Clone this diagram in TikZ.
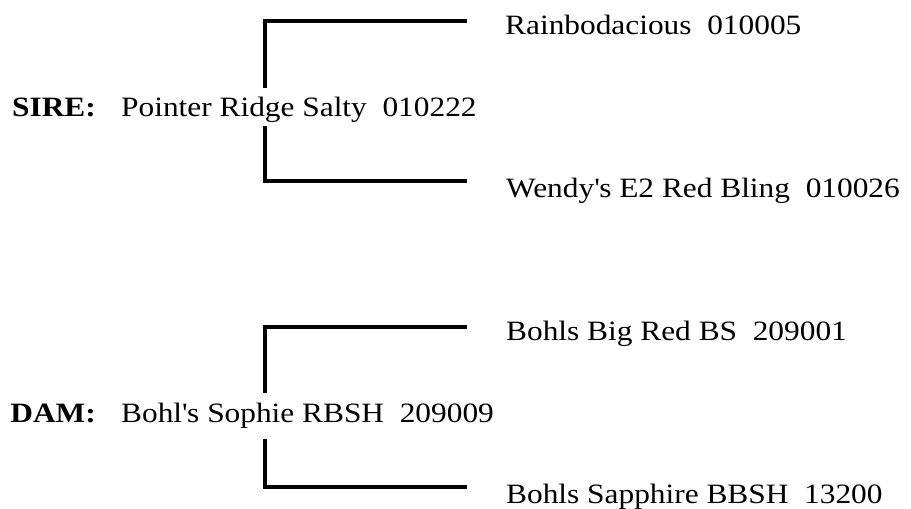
\documentclass[tikz,border=0pt]{standalone}
\usepackage{fontspec}
\setmainfont{Liberation Serif}[FakeStretch=1.12]
\newcommand{\apos}{\textquotesingle}
\begin{document}
\begin{tikzpicture}[x=1pt,y=-1pt,
  lbl/.style={anchor=base west,inner sep=0pt,font=\fontsize{28}{30}\selectfont},
  head/.style={anchor=base east,inner sep=0pt,font=\fontsize{28}{30}\selectfont\bfseries},
  bracket/.style={line width=3.4pt,line cap=butt,line join=miter}]
\useasboundingbox (0,0) rectangle (911,509);
% Sire block
\node[head] (sirelbl) at (96,116) {SIRE:};
\node[lbl] (sire) at (121,116) {Pointer Ridge Salty\ \ 010222};
\node[lbl] (ss) at (505,34) {Rainbodacious\ \ 010005};
\node[lbl] (sd) at (506,197) {Wendy\apos s E2 Red Bling\ \ 010026};
\coordinate (sireup) at (265,88);
\coordinate (siredn) at (265,126);
\coordinate (ssend) at (467,21);
\coordinate (sdend) at (467,181);
\draw[bracket] (sireup) |- (ssend);
\draw[bracket] (siredn) |- (sdend);
% Dam block
\node[head] (damlbl) at (96,422) {DAM:};
\node[lbl] (dam) at (121,422) {Bohl\apos s Sophie RBSH\ \ 209009};
\node[lbl] (ds) at (506,340) {Bohls Big Red BS\ \ 209001};
\node[lbl] (dd) at (506,503) {Bohls Sapphire BBSH\ \ 13200};
\coordinate (damup) at (265,393);
\coordinate (damdn) at (265,439);
\coordinate (dsend) at (467,327);
\coordinate (ddend) at (467,487);
\draw[bracket] (damup) |- (dsend);
\draw[bracket] (damdn) |- (ddend);
\end{tikzpicture}
\end{document}
